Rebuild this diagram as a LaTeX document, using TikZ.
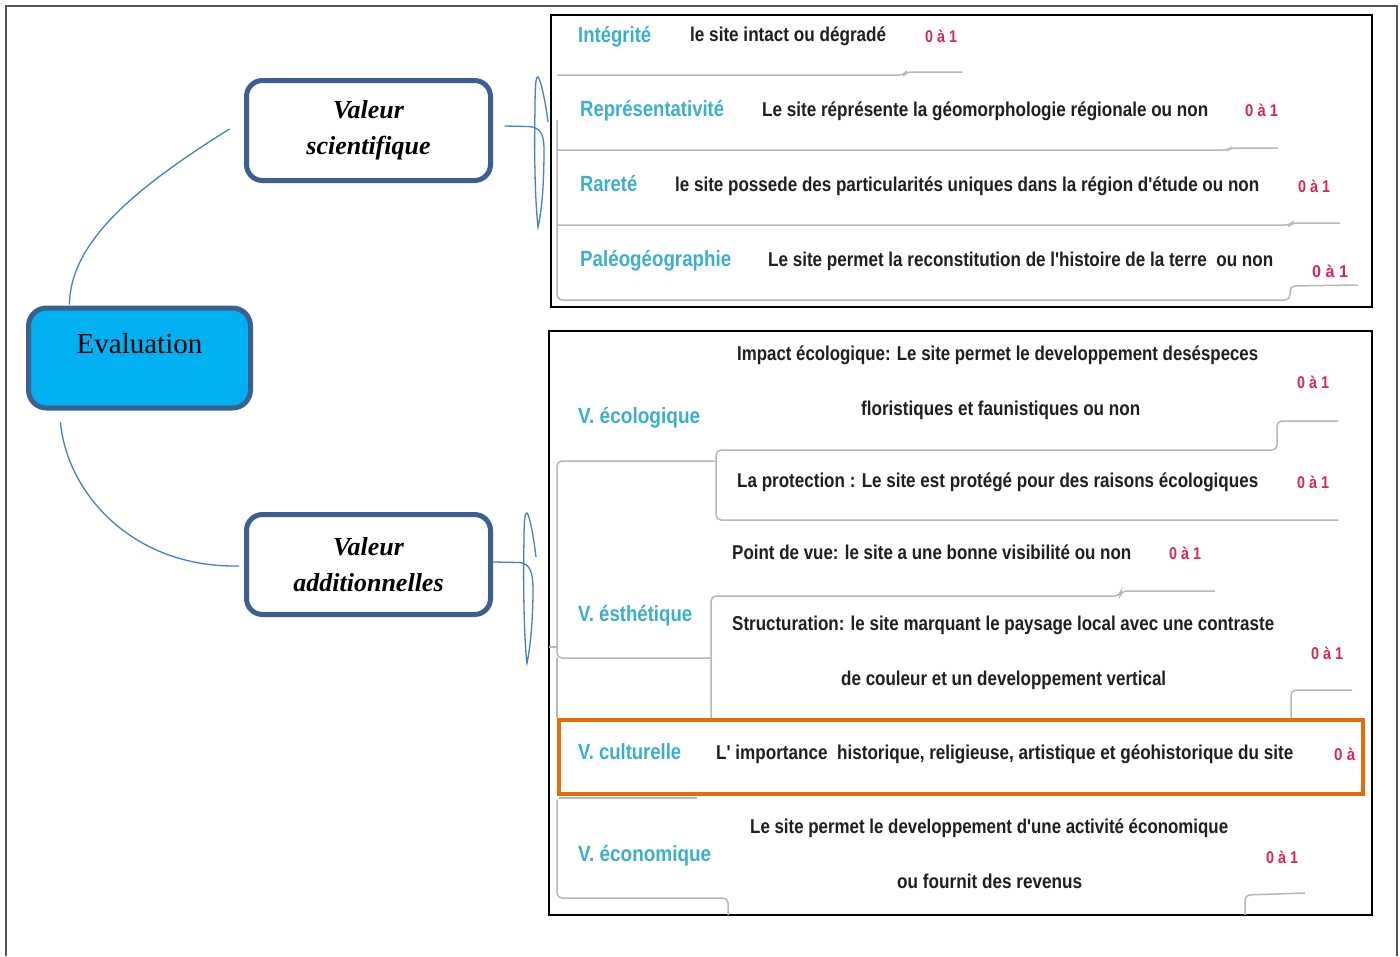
\documentclass[tikz,border=0pt]{standalone}
\usepackage{fontspec}
\usepackage{graphicx}
\setmainfont{Liberation Serif}
\newfontfamily\nar{Liberation Sans}
\definecolor{boxblue}{RGB}{59,95,142}
\definecolor{evalfill}{RGB}{0,176,240}
\definecolor{lineblue}{RGB}{74,125,194}
\definecolor{labcyan}{RGB}{60,175,205}
\definecolor{scorered}{RGB}{215,40,85}
\definecolor{hilite}{RGB}{228,108,10}
\definecolor{framegray}{RGB}{85,85,85}
\newcommand\fitw[2]{\resizebox{#1}{\height}{#2}}
\begin{document}
\begin{tikzpicture}[x=1pt,y=-1pt,
  box/.style={draw=boxblue, line width=5pt, rounded corners=16pt, inner sep=0pt,
    minimum width=244pt, minimum height=100pt, align=center, fill=white,
    font=\bfseries\itshape\fontsize{26}{36}\selectfont},
  conn/.style={draw=lineblue, line width=1.3pt},
  lab/.style={font=\nar\bfseries\fontsize{22}{24}\selectfont, text=labcyan, anchor=mid west, inner sep=0pt, yshift=-4.5pt},
  desc/.style={font=\nar\bfseries\fontsize{20}{22}\selectfont, text=black!88, anchor=mid west, inner sep=0pt, yshift=-4.5pt},
  score/.style={font=\nar\bfseries\fontsize{17}{19}\selectfont, text=scorered, anchor=mid west, inner sep=0pt, yshift=-4pt},
  gline/.style={draw=black!28, line width=1.5pt, rounded corners=5pt},
  panel/.style={draw=black, line width=2pt},
  frameline/.style={draw=framegray, line width=2pt}]
\useasboundingbox (0,0) rectangle (1400,956);
\fill[white] (0,0) rectangle (1400,956);
% outer frame
\draw[frameline] (6,956) -- (6,6) -- (1397,6) -- (1397,956);
% panels
\draw[panel] (551,15) rectangle (1372,307);
\draw[panel] (549,331) rectangle (1372,915);
% gray step lines, top panel
\draw[gline] (557,75) -- (904,75) -- (906,72) -- (962,72);
\draw[gline] (557,150) -- (1228,150) -- (1231,148) -- (1278,148);
\draw[gline] (557,225) -- (1290,225) -- (1292,223) -- (1340,223);
\draw[gline] (557,120) -- (557,300) -- (1290,300) -- (1290,286) -- (1358,285);
% gray step lines, bottom panel
\draw[gline] (716,461) -- (557,461) -- (557,658) -- (712,658);
\draw[gline] (557,658) -- (557,718);
\draw[gline] (549,647) -- (557,647);
\draw[gline] (1338,421) -- (1277,421) -- (1277,450) -- (716,450) -- (716,520) -- (1338,520);
\draw[gline] (1215,591) -- (1121,591) -- (1120,596) -- (711,596) -- (711,718);
\draw[gline] (1291,718) -- (1291,690) -- (1352,690);
\draw[gline] (559,798) -- (697,798);
\draw[gline] (557,800) -- (557,898) -- (728,898) -- (728,915);
\draw[gline] (1245,915) -- (1245,895) -- (1305,893);
% highlight
\draw[draw=hilite, line width=4pt] (559,720) rectangle (1363,794);

% left mind map
\node[box, fill=evalfill, minimum width=222pt, minimum height=100pt, rounded corners=18pt,
      font=\fontsize{29}{34}\selectfont, text height=19pt, text depth=28pt] (eval) at (139.5,358) {Evaluation};
\node[box] (vs) at (368.5,130.5) {Valeur\\scientifique};
\node[box] (va) at (368.5,564.5) {Valeur\\additionnelles};

\draw[conn] ([xshift=43.5pt,yshift=1pt]eval.north west) .. controls (70,240) and (140,185) .. ([xshift=-14.5pt,yshift=1.5pt]vs.west);
\draw[conn] ([xshift=34.5pt,yshift=-11.5pt]eval.south west) .. controls (66,490) and (130,568) .. ([xshift=-5pt,yshift=-1.5pt]va.west);

% brace-like loops
\coordinate (b1) at ([xshift=11.5pt,yshift=4.5pt]vs.east);
\draw[conn] (b1) -- (528,126.5) .. controls (540,127) and (544,133) .. (544,150)
  .. controls (544,190) and (541,215) .. (538,227)
  .. controls (535,200) and (534,150) .. (535,110)
  .. controls (535,85) and (536,75) .. (538,77)
  .. controls (541,80) and (546,105) .. (548,122);
\coordinate (b2) at ([yshift=2.5pt]va.east);
\draw[conn] (b2) -- (520,562.5) .. controls (530,564) and (533,572) .. (533,590)
  .. controls (533,620) and (530,650) .. (527,663)
  .. controls (524,640) and (523,580) .. (524,540)
  .. controls (524,520) and (525,512) .. (527,513)
  .. controls (530,516) and (534,540) .. (536,557);

% top panel texts
\node[lab] (t1) at (578,36) {\fitw{73pt}{Intégrité}};
\node[desc] (t2) at (690,35) {\fitw{196pt}{le site intact ou dégradé}};
\node[score] (t3) at (925,36) {\fitw{32pt}{0 à 1}};
\node[lab] (t4) at (580,110) {\fitw{144pt}{Représentativité}};
\node[desc] (t5) at (762,110) {\fitw{446pt}{Le site réprésente la géomorphologie régionale ou non}};
\node[score] (t6) at (1245,110) {\fitw{33pt}{0 à 1}};
\node[lab] (t7) at (580,185) {\fitw{57pt}{Rareté}};
\node[desc] (t8) at (675,185) {\fitw{584pt}{le site possede des particularités uniques dans la région d'étude ou non}};
\node[score] (t9) at (1298,186) {\fitw{32pt}{0 à 1}};
\node[lab] (t10) at (580,260) {\fitw{151pt}{Paléogéographie}};
\node[desc] (t11) at (768,260) {\fitw{505pt}{Le site permet la reconstitution de l'histoire de la terre \ ou non}};
\node[score] (t12) at (1312,271) {\fitw{36pt}{0 à 1}};

% bottom panel texts
\node[desc] (u1) at (737,354) {\fitw{521pt}{Impact écologique: Le site permet le developpement deséspeces}};
\node[score] (u2) at (1297,382) {\fitw{32pt}{0 à 1}};
\node[lab] (u3) at (578,417) {\fitw{122pt}{V. écologique}};
\node[desc] (u4) at (861,409) {\fitw{279pt}{floristiques et faunistiques ou non}};
\node[desc] (u5) at (737,481) {\fitw{521pt}{La protection : Le site est protégé pour des raisons écologiques}};
\node[score] (u6) at (1297,482) {\fitw{32pt}{0 à 1}};
\node[desc] (u7) at (732,553) {\fitw{399pt}{Point de vue: le site a une bonne visibilité ou non}};
\node[score] (u8) at (1169,553) {\fitw{32pt}{0 à 1}};
\node[lab] (u9) at (578,615) {\fitw{114pt}{V. ésthétique}};
\node[desc] (u10) at (732,624) {\fitw{542pt}{Structuration: le site marquant le paysage local avec une contraste}};
\node[score] (u11) at (1311,653) {\fitw{32pt}{0 à 1}};
\node[desc] (u12) at (841,679) {\fitw{325pt}{de couleur et un developpement vertical}};
\node[lab] (u13) at (578,753) {\fitw{103pt}{V. culturelle}};
\node[desc] (u14) at (716,753) {\fitw{577pt}{L' importance \ historique, religieuse, artistique et géohistorique du site}};
\node[score] (u15) at (1334,754) {\fitw{21pt}{0 à}};
\node[desc] (u16) at (750,827) {\fitw{478pt}{Le site permet le developpement d'une activité économique}};
\node[lab] (u17) at (578,855) {\fitw{133pt}{V. économique}};
\node[score] (u18) at (1266,857) {\fitw{32pt}{0 à 1}};
\node[desc] (u19) at (897,882) {\fitw{185pt}{ou fournit des revenus}};
\end{tikzpicture}
\end{document}
